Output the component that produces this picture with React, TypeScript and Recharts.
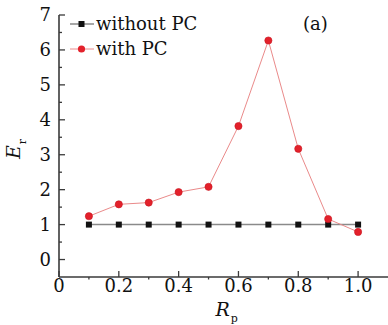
import React from 'react';
import { LineChart, Line, XAxis, YAxis } from 'recharts';

const rpValues = [0.1, 0.2, 0.3, 0.4, 0.5, 0.6, 0.7, 0.8, 0.9, 1.0];
const withoutPC = [1, 1, 1, 1, 1, 1, 1, 1, 1, 1];
const withPC = [1.24, 1.58, 1.63, 1.93, 2.08, 3.82, 6.27, 3.17, 1.16, 0.79];
const yMajorTicks = [0, 1, 2, 3, 4, 5, 6, 7];
const yMinorTicks = [0.5, 1.5, 2.5, 3.5, 4.5, 5.5, 6.5];
const xMajorTicks = [0, 0.2, 0.4, 0.6, 0.8, 1.0];
const xMinorTicks = [0.1, 0.3, 0.5, 0.7, 0.9];
const seriesNames = ['without PC', 'with PC'];
const panelTag = '(a)';

const data = rpValues.map((rp, i) => ({ rp, without: withoutPC[i], withpc: withPC[i] }));

const FONT = 'DejaVu Serif';
const AXIS = '#3a3a3a';
const RED = '#e3212b';
const RED_LINE = '#ea8a8a';
const GRAY_LINE = '#8a8a8a';

const isMajor = (v: number, arr: number[]) => arr.some((a) => Math.abs(a - v) < 1e-9);

const YTick = (props: any) => {
  const { x, y, payload } = props;
  const v = payload.value;
  const major = isMajor(v, yMajorTicks);
  const ax = x + 8;
  return (
    <g>
      <line x1={ax} x2={ax + (major ? 6 : 3)} y1={y} y2={y} stroke={AXIS} strokeWidth={1.3} />
      {major && (
        <text x={x} y={y} dy={6} textAnchor="end" fontFamily={FONT} fontSize={18} fill="#111">
          {String(v)}
        </text>
      )}
    </g>
  );
};

const XTick = (props: any) => {
  const { x, y, payload } = props;
  const v = payload.value;
  const major = isMajor(v, xMajorTicks);
  const ay = y - 4;
  return (
    <g>
      {major ? (
        <line x1={x} x2={x} y1={ay} y2={ay - 6} stroke={AXIS} strokeWidth={1.3} />
      ) : (
        <line x1={x} x2={x} y1={ay} y2={ay + 2.5} stroke={AXIS} strokeWidth={1.3} />
      )}
      {major && (
        <text x={x} y={y + 11} textAnchor="middle" fontFamily={FONT} fontSize={18} fill="#111">
          {v === 0 ? '0' : v.toFixed(1)}
        </text>
      )}
    </g>
  );
};

const SquareDot = (props: any) => {
  const { cx, cy } = props;
  if (cx == null || cy == null) return null;
  return <rect x={cx - 3} y={cy - 3} width={6} height={6} fill="#111" />;
};

const CircleDot = (props: any) => {
  const { cx, cy } = props;
  if (cx == null || cy == null) return null;
  return <circle cx={cx} cy={cy} r={3.6} fill={RED} stroke="#c8141e" strokeWidth={0.6} />;
};

const LegendOverlay = () => (
  <div style={{ position: 'absolute', left: 70, top: 14, width: 320, height: 60, fontFamily: FONT, fontSize: 18, color: '#111', pointerEvents: 'none' }}>
    {seriesNames.map((name, i) => (
      <div key={name} style={{ position: 'absolute', left: 0, top: i * 25, height: 20, display: 'flex', alignItems: 'center' }}>
        <svg width={25} height={20} style={{ display: 'block' }}>
          <line x1={0} x2={24} y1={10} y2={10} stroke={i === 0 ? GRAY_LINE : RED_LINE} strokeWidth={i === 0 ? 1.5 : 1} />
          {i === 0 ? (
            <rect x={8.5} y={7} width={6} height={6} fill="#111" />
          ) : (
            <circle cx={11.5} cy={10} r={3.6} fill={RED} />
          )}
        </svg>
        <span style={{ marginLeft: 1, lineHeight: '20px', whiteSpace: 'nowrap' }}>{name}</span>
      </div>
    ))}
    <div style={{ position: 'absolute', left: 233, top: 0, lineHeight: '20px' }}>{panelTag}</div>
  </div>
);

const XLabel = (props: any) => {
  const { viewBox } = props;
  const cx = viewBox.x + viewBox.width / 2;
  return (
    <text x={cx - 8} y={316} fontFamily={FONT} fontSize={19} fontStyle="italic" fill="#111">
      R
      <tspan fontSize={11} fontStyle="normal" dx={1} dy={6}>p</tspan>
    </text>
  );
};

const YLabel = (props: any) => {
  const { viewBox } = props;
  const cy = viewBox.y + viewBox.height / 2;
  return (
    <text
      x={0}
      y={0}
      transform={`translate(20, ${cy + 13}) rotate(-90)`}
      fontFamily={FONT}
      fontSize={19}
      fontStyle="italic"
      fill="#111"
    >
      E
      <tspan fontSize={11} fontStyle="normal" dx={1} dy={6}>r</tspan>
    </text>
  );
};

export default function App() {
  return (
    <div style={{ position: 'absolute', left: 0, top: 0, width: 388, height: 325, background: '#fff' }}>
      <LineChart width={388} height={325} data={data} margin={{ top: 15, right: 0, left: 0, bottom: 0 }}>
        <XAxis
          dataKey="rp"
          type="number"
          domain={[0, 1.1]}
          ticks={[...xMajorTicks, ...xMinorTicks].sort((a, b) => a - b)}
          interval={0}
          tickSize={0}
          tickMargin={4}
          tickLine={false}
          tick={<XTick />}
          height={48}
          axisLine={{ stroke: AXIS, strokeWidth: 1.6 }}
          label={<XLabel />}
        />
        <YAxis
          type="number"
          domain={[-0.5, 7]}
          ticks={[...yMajorTicks, ...yMinorTicks].sort((a, b) => a - b)}
          interval={0}
          tickSize={0}
          tickMargin={8}
          tickLine={false}
          tick={<YTick />}
          width={59}
          axisLine={{ stroke: AXIS, strokeWidth: 1.6 }}
          allowDataOverflow
          label={<YLabel />}
        />
        <Line
          dataKey="without"
          stroke={GRAY_LINE}
          strokeWidth={1.5}
          dot={<SquareDot />}
          activeDot={false}
          isAnimationActive={false}
        />
        <Line
          dataKey="withpc"
          stroke={RED_LINE}
          strokeWidth={1}
          dot={<CircleDot />}
          activeDot={false}
          isAnimationActive={false}
        />
      </LineChart>
      <LegendOverlay />
    </div>
  );
}
